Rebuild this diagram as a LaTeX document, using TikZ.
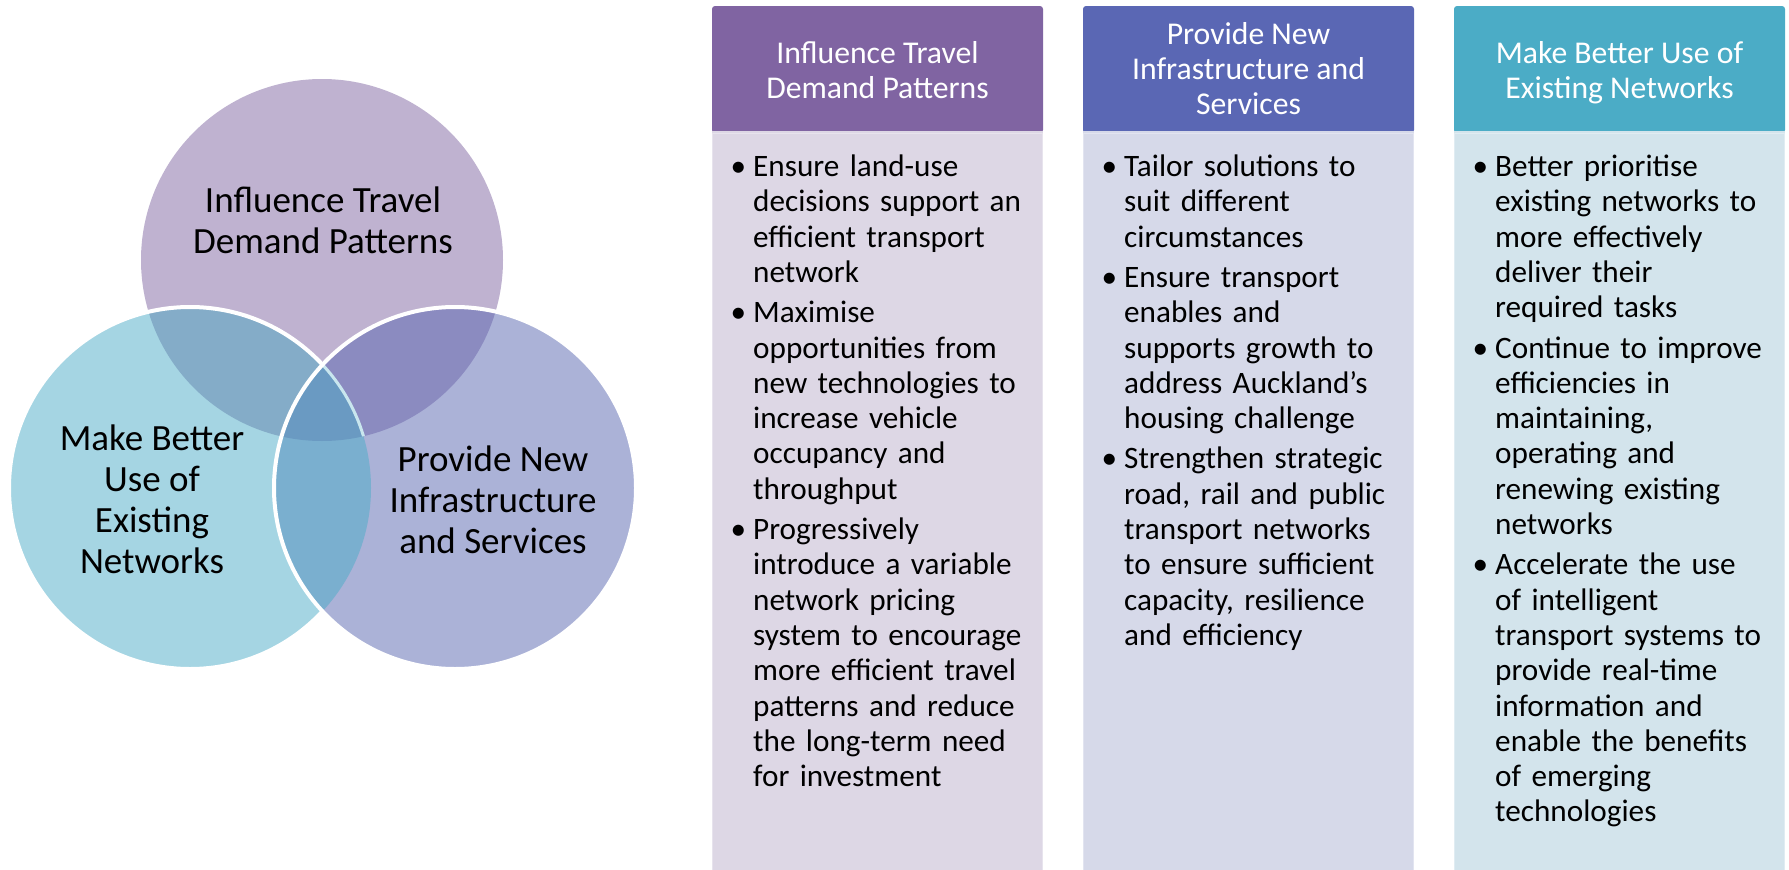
\documentclass[tikz,border=0pt]{standalone}
\usepackage{fontspec}
\setmainfont{Carlito}
\definecolor{cTop}{HTML}{BFB2D0}
\definecolor{cLeft}{HTML}{A5D5E3}
\definecolor{cRight}{HTML}{ABB2D7}
\definecolor{cTL}{HTML}{84ACC8}
\definecolor{cTR}{HTML}{8B8BC0}
\definecolor{cLR}{HTML}{7AAFCF}
\definecolor{cTLR}{HTML}{6A9AC2}
\definecolor{hOne}{HTML}{8064A2}
\definecolor{hTwo}{HTML}{5A67B4}
\definecolor{hThree}{HTML}{4BACC6}
\definecolor{bOne}{HTML}{DDD7E5}
\definecolor{bTwo}{HTML}{D6D9E9}
\definecolor{bThree}{HTML}{D3E4EC}
\newcommand{\cst}{\rule{0pt}{31pt}}
\newcommand{\hst}{\rule{0pt}{26pt}}
\newcommand{\bl}{\newline}
\newcommand{\bitem}[1]{\par\hangindent=22.5pt\hangafter=1\noindent\makebox[22.5pt][l]{\hst•}#1}
\begin{document}
\begin{tikzpicture}[x=1pt,y=-1pt,
  circtext/.style={inner sep=0pt, align=center, font=\fontsize{37}{41}\selectfont, text=black},
  headtext/.style={inner sep=0pt, align=center, font=\fontsize{31.7}{35}\selectfont, text=white},
  headbox/.style={rectangle, rounded corners=3pt, minimum width=331pt, minimum height=127pt, inner sep=0pt},
  bodytext/.style={inner sep=0pt, text width=320pt, font=\fontsize{31.2}{35.3}\selectfont, text=black}]
\useasboundingbox (0,0) rectangle (1789,870);
% Venn
\coordinate (T) at (322,260);
\coordinate (L) at (190,488);
\coordinate (R) at (455,488);
\fill[cTop] (T) circle[radius=181];
\fill[cLeft] (L) circle[radius=181];
\begin{scope}
  \clip (L) circle[radius=181];
  \fill[cTL] (T) circle[radius=181];
\end{scope}
\draw[white, line width=4pt] (L) circle[radius=181];
\fill[cRight] (R) circle[radius=181];
\begin{scope}
  \clip (R) circle[radius=181];
  \fill[cTR] (T) circle[radius=181];
  \fill[cLR] (L) circle[radius=181];
  \clip (L) circle[radius=181];
  \fill[cTLR] (T) circle[radius=181];
\end{scope}
\begin{scope}
  \clip (R) circle[radius=181];
  \clip (T) circle[radius=181];
  \draw[cLeft!60!white, line width=3pt] (L) circle[radius=181];
\end{scope}
\draw[white, line width=4pt] (R) circle[radius=181];
\node[circtext, anchor=north] (tTop) at (323,181) {\cst Influence Travel\\Demand Patterns};
\node[circtext, anchor=north] (tLeft) at (152,419) {\cst Make Better\\Use of\\Existing\\Networks};
\node[circtext, anchor=north] (tRight) at (493,440) {\cst Provide New\\Infrastructure\\and Services};
% Columns
\node[headbox, fill=hOne] (h1) at (877.5,69.5) {};
\node[headbox, fill=hTwo] (h2) at (1248.5,69.5) {};
\node[headbox, fill=hThree] (h3) at (1619.5,69.5) {};
\fill[bOne] (712,131) rectangle (1043,870);
\fill[bTwo] (1083,131) rectangle (1414,870);
\fill[bThree] (1454,131) rectangle (1785,870);
\draw[bOne!70!white, line width=1pt] (712.5,133) rectangle (1042.5,870);
\draw[bTwo!70!white, line width=1pt] (1083.5,133) rectangle (1413.5,870);
\draw[bThree!70!white, line width=1pt] (1454.5,133) rectangle (1784.5,870);
\node[headtext, anchor=north] (ht1) at (877.5,37) {\hst Influence Travel\\Demand Patterns};
\node[headtext, anchor=north] (ht2) at (1248.5,18) {\hst Provide New\\Infrastructure and\\Services};
\node[headtext, anchor=north] (ht3) at (1619.5,37) {\hst Make Better Use of\\Existing Networks};
\node[bodytext, anchor=north west] (b1) at (730.5,136) {\setlength{\parskip}{5pt}%
\bitem{Ensure land-use\bl decisions support an\bl efficient transport\bl network}
\bitem{Maximise\bl opportunities from\bl new technologies to\bl increase vehicle\bl occupancy and\bl throughput}
\bitem{Progressively\bl introduce a variable\bl network pricing\bl system to encourage\bl more efficient travel\bl patterns and reduce\bl the long-term need\bl for investment}\par};
\node[bodytext, anchor=north west] (b2) at (1101.5,136) {\setlength{\parskip}{5pt}%
\bitem{Tailor solutions to\bl suit different\bl circumstances}
\bitem{Ensure transport\bl enables and\bl supports growth to\bl address Auckland’s\bl housing challenge}
\bitem{Strengthen strategic\bl road, rail and public\bl transport networks\bl to ensure sufficient\bl capacity, resilience\bl and efficiency}\par};
\node[bodytext, anchor=north west] (b3) at (1472.5,136) {\setlength{\parskip}{5pt}%
\bitem{Better prioritise\bl existing networks to\bl more effectively\bl deliver their\bl required tasks}
\bitem{Continue to improve\bl efficiencies in\bl maintaining,\bl operating and\bl renewing existing\bl networks}
\bitem{Accelerate the use\bl of intelligent\bl transport systems to\bl provide real-time\bl information and\bl enable the benefits\bl of emerging\bl technologies}\par};
\end{tikzpicture}
\end{document}
